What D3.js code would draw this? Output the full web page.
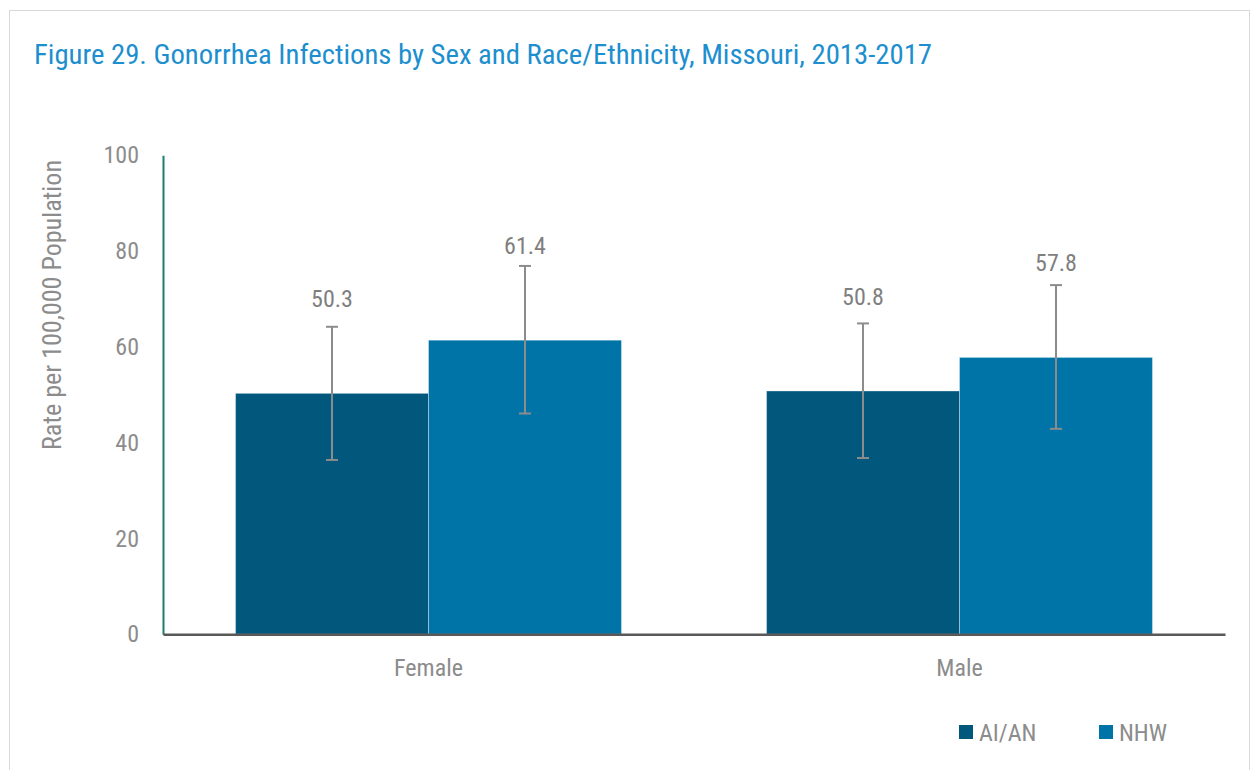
<!DOCTYPE html>
<html>
<head>
<meta charset="utf-8">
<script src="https://cdn.jsdelivr.net/npm/d3@7"></script>
<style>
  body { margin: 0; background: #fff; }
  text { font-family: "Liberation Sans Narrow", "Arial Narrow", "Roboto Condensed", sans-serif; }
</style>
</head>
<body>
<svg id="chart" width="1254" height="770"></svg>
<script>
// chart data
var sexes = ["Female", "Male"];
var races = ["AI/AN", "NHW"];
var colors = ["#01577c", "#0073a7"];
var rates = [[50.3, 61.4], [50.8, 57.8]];
var lower = [[36.4, 46.1], [36.8, 42.9]];
var upper = [[64.2, 76.9], [64.9, 72.9]];
var yTicks = [0, 20, 40, 60, 80, 100];

var svg = d3.select("#chart");
var plotL = 163, plotR = 1225, plotT = 155.3, plotB = 634.3;

// outer frame
svg.append("rect")
    .attr("x", 9.5).attr("y", 10.5)
    .attr("width", 1240).attr("height", 770)
    .attr("fill", "none").attr("stroke", "#d9d9d9");

svg.append("text")
    .attr("x", 34).attr("y", 64)
    .attr("fill", "#1d8fcf")
    .attr("font-size", 28.5)
    .attr("textLength", 898)
    .attr("lengthAdjust", "spacingAndGlyphs")
    .text("Figure 29. Gonorrhea Infections by Sex and Race/Ethnicity, Missouri, 2013-2017");

var y = d3.scaleLinear().domain([0, 100]).range([plotB, plotT]);
var x0 = d3.scaleBand().domain(sexes).range([plotL, plotR]).padding(0);
var x1 = d3.scaleBand().domain(races).range([0, x0.bandwidth()])
    .paddingInner(0).paddingOuter(0.376);
var color = d3.scaleOrdinal().domain(races).range(colors);

// y axis
var yAxis = svg.append("g")
    .attr("transform", "translate(" + plotL + ",0)")
    .call(d3.axisLeft(y).tickValues(yTicks).tickSize(0).tickPadding(24));
yAxis.attr("font-family", null);
yAxis.select(".domain").attr("stroke", "#1a7f6e").attr("stroke-width", 2);
yAxis.selectAll("text")
    .attr("fill", "#8c8c8c")
    .attr("font-size", 24);

svg.append("text")
    .attr("transform", "translate(61,305) rotate(-90)")
    .attr("text-anchor", "middle")
    .attr("fill", "#8c8c8c")
    .attr("font-size", 25)
    .attr("textLength", 290)
    .attr("lengthAdjust", "spacingAndGlyphs")
    .text("Rate per 100,000 Population");

// bars
var rows = [];
sexes.forEach(function(s, i) {
    races.forEach(function(r, j) {
        rows.push({ sex: s, race: r, v: rates[i][j], lo: lower[i][j], hi: upper[i][j] });
    });
});

svg.selectAll("rect.bar")
    .data(rows)
  .enter().append("rect")
    .attr("class", "bar")
    .attr("x", function(d) { return x0(d.sex) + x1(d.race); })
    .attr("y", function(d) { return y(d.v); })
    .attr("width", x1.bandwidth())
    .attr("height", function(d) { return y(0) - y(d.v); })
    .attr("fill", function(d) { return color(d.race); })
    .attr("stroke", "#ffffff").attr("stroke-opacity", 0.35).attr("stroke-width", 1);

// x axis baseline
var xAxis = svg.append("g")
    .attr("transform", "translate(0," + plotB + ")")
    .call(d3.axisBottom(x0).tickSize(0).tickPadding(25));
xAxis.attr("font-family", null);
xAxis.select(".domain").attr("stroke", "#595959").attr("stroke-width", 2.5);
xAxis.selectAll("text")
    .attr("fill", "#8c8c8c")
    .attr("font-size", 24);

// error bars
var cx = function(d) { return x0(d.sex) + x1(d.race) + x1.bandwidth() / 2; };
var err = svg.selectAll("g.err").data(rows).enter().append("g")
    .attr("stroke", "#8c8c8c").attr("stroke-width", 2);
err.append("line")
    .attr("x1", cx).attr("x2", cx)
    .attr("y1", function(d) { return y(d.lo); })
    .attr("y2", function(d) { return y(d.hi); });
err.append("line")
    .attr("x1", function(d) { return cx(d) - 6; }).attr("x2", function(d) { return cx(d) + 6; })
    .attr("y1", function(d) { return y(d.hi); }).attr("y2", function(d) { return y(d.hi); });
err.append("line")
    .attr("x1", function(d) { return cx(d) - 6; }).attr("x2", function(d) { return cx(d) + 6; })
    .attr("y1", function(d) { return y(d.lo); }).attr("y2", function(d) { return y(d.lo); });

// value labels sit a fixed distance above the bar top
svg.selectAll("text.val")
    .data(rows)
  .enter().append("text")
    .attr("class", "val")
    .attr("x", cx)
    .attr("y", function(d) { return y(d.v) - 86; })
    .attr("text-anchor", "middle")
    .attr("fill", "#7f7f7f")
    .attr("font-size", 24)
    .text(function(d) { return d.v.toFixed(1); });

// legend
var legX = [959, 1099];
var leg = svg.selectAll("g.leg").data(races).enter().append("g")
    .attr("transform", function(d, i) { return "translate(" + legX[i] + ",725)"; });
leg.append("rect")
    .attr("width", 14).attr("height", 14)
    .attr("fill", function(d) { return color(d); });
leg.append("text")
    .attr("x", 20).attr("y", 16)
    .attr("fill", "#8c8c8c")
    .attr("font-size", 24)
    .text(function(d) { return d; });
</script>
</body>
</html>
